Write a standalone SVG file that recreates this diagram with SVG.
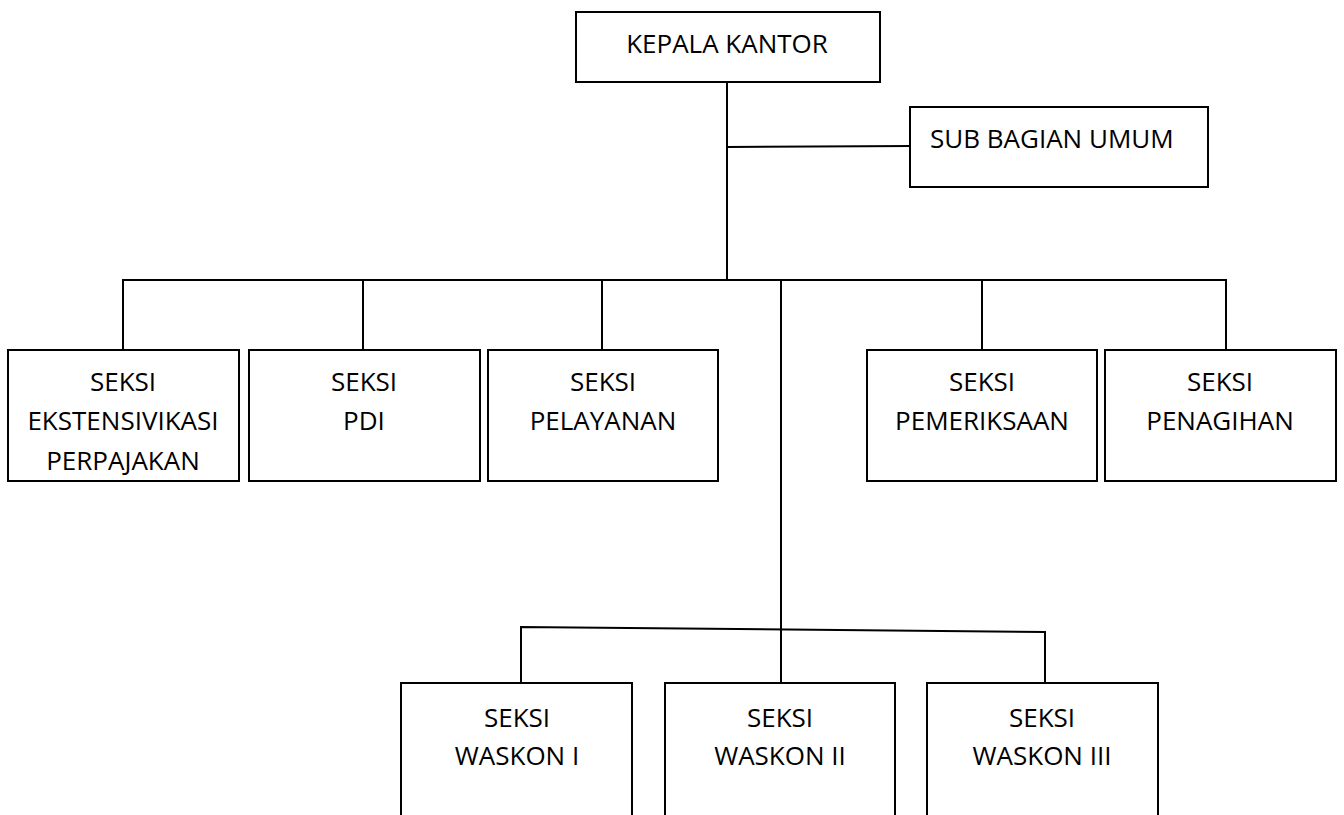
<svg xmlns="http://www.w3.org/2000/svg" width="1344" height="815" viewBox="0 0 1344 815">
<style>
.box{fill:#fff;stroke:#000;stroke-width:2}
.ln{fill:none;stroke:#000;stroke-width:2}
text{font-family:"Open Sans","Liberation Sans",sans-serif;font-size:26px;fill:#000;text-anchor:middle}
</style>
<rect width="1344" height="815" fill="#fff"/>
<g id="connectors">
<line class="ln" x1="727" y1="82" x2="727" y2="280"/>
<line class="ln" x1="727" y1="147" x2="913" y2="146"/>
<polyline class="ln" points="123,350 123,280 1226,280 1226,350"/>
<line class="ln" x1="363" y1="280" x2="363" y2="350"/>
<line class="ln" x1="602" y1="280" x2="602" y2="350"/>
<line class="ln" x1="982" y1="280" x2="982" y2="350"/>
<line class="ln" x1="781" y1="280" x2="781" y2="683"/>
<polyline class="ln" points="521,683 521,627 1045,632 1045,690"/>
</g>
<g id="kepala"><rect class="box" x="576" y="12" width="304" height="70"/><text x="727" y="53">KEPALA KANTOR</text></g>
<g id="subbagian"><rect class="box" x="910" y="107" width="298" height="80"/><text x="930" y="148" style="text-anchor:start">SUB BAGIAN UMUM</text></g>
<g id="ekstensifikasi"><rect class="box" x="8" y="350" width="231" height="131"/><text x="123" y="391">SEKSI</text><text x="123" y="430">EKSTENSIVIKASI</text><text x="123" y="470">PERPAJAKAN</text></g>
<g id="pdi"><rect class="box" x="249" y="350" width="231" height="131"/><text x="364" y="391">SEKSI</text><text x="364" y="430">PDI</text></g>
<g id="pelayanan"><rect class="box" x="488" y="350" width="230" height="131"/><text x="603" y="391">SEKSI</text><text x="603" y="430">PELAYANAN</text></g>
<g id="pemeriksaan"><rect class="box" x="867" y="350" width="230" height="131"/><text x="982" y="391">SEKSI</text><text x="982" y="430">PEMERIKSAAN</text></g>
<g id="penagihan"><rect class="box" x="1105" y="350" width="231" height="131"/><text x="1220" y="391">SEKSI</text><text x="1220" y="430">PENAGIHAN</text></g>
<g id="waskon1"><rect class="box" x="401" y="683" width="231" height="150"/><text x="517" y="727">SEKSI</text><text x="517" y="765">WASKON I</text></g>
<g id="waskon2"><rect class="box" x="665" y="683" width="230" height="150"/><text x="780" y="727">SEKSI</text><text x="780" y="765">WASKON II</text></g>
<g id="waskon3"><rect class="box" x="927" y="683" width="231" height="150"/><text x="1042" y="727">SEKSI</text><text x="1042" y="765">WASKON III</text></g>
</svg>
